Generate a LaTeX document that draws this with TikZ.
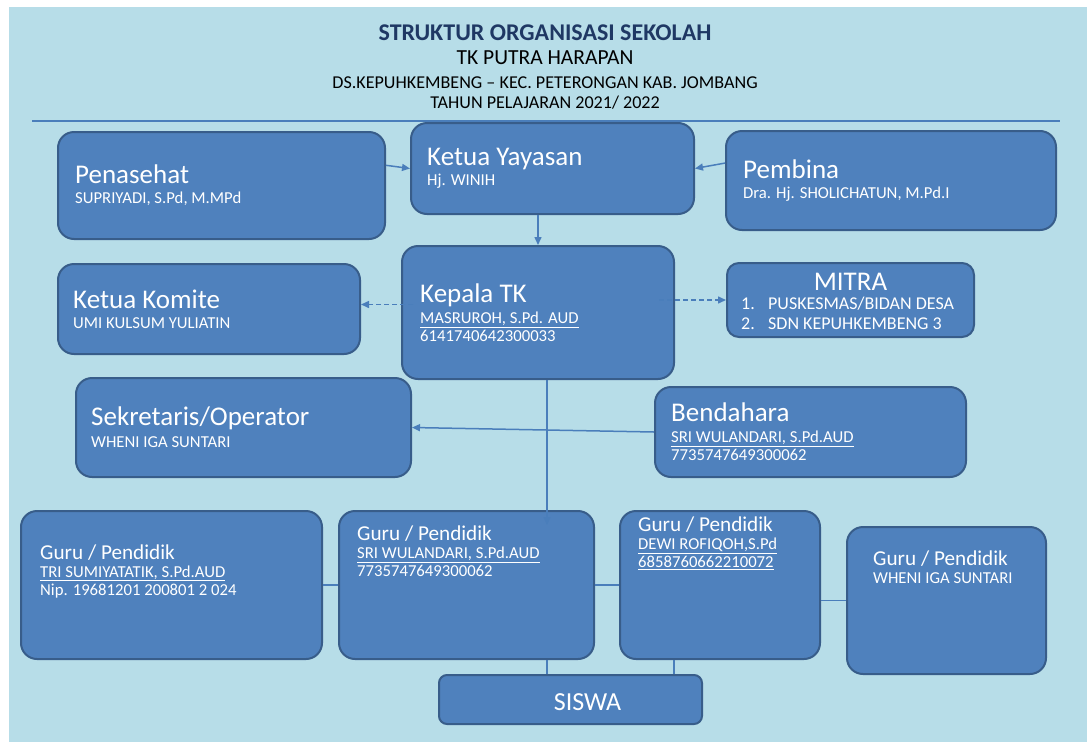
\documentclass[tikz,border=0pt]{standalone}
\usepackage{fontspec}
\setmainfont{Carlito}
\usetikzlibrary{arrows.meta, calc}
\definecolor{bgblue}{HTML}{B7DDE8}
\definecolor{boxblue}{HTML}{4F81BD}
\definecolor{edgeblue}{HTML}{385D8A}
\definecolor{linkblue}{HTML}{4A7EBB}
\definecolor{navy}{HTML}{1F3864}
\newcommand{\hd}[1]{{\fontsize{27}{30}\selectfont #1}}
\newcommand{\gd}[1]{{\fontsize{21.2}{25}\selectfont #1}}

\begin{document}
\begin{tikzpicture}[x=1pt, y=-1pt,
  box/.style={draw=edgeblue, line width=2pt, fill=boxblue, rounded corners=16pt, anchor=north west, inner sep=0pt},
  txt/.style={anchor=west, align=left, inner sep=0pt, text=white, font=\fontsize{16.7}{18}\selectfont},
  link/.style={draw=linkblue, line width=1.5pt},
  arr/.style={link, -{Triangle[length=8pt, width=7pt]}},
  dlink/.style={arr, dash pattern=on 5pt off 3pt}]
   \useasboundingbox (0,0) rectangle (1087,742);
   \fill[bgblue] (9,7) rectangle (1087,742);

   % heading
   \node[anchor=base, text=navy, font=\bfseries\fontsize{24}{28}\selectfont] (title) at (545,40) {STRUKTUR ORGANISASI SEKOLAH};
   \node[anchor=base, font=\fontsize{21.5}{24}\selectfont] (school) at (545,64.5) {TK PUTRA HARAPAN};
   \node[anchor=base, font=\fontsize{18.1}{21}\selectfont] (addr) at (545,88) {DS.KEPUHKEMBENG -- KEC. PETERONGAN KAB. JOMBANG};
   \node[anchor=base, font=\fontsize{18.1}{21}\selectfont] (year) at (545,108) {TAHUN PELAJARAN 2021/ 2022};
   \draw[link] (32,121) -- (1060,121);

   % boxes
   \node[box, minimum width=327pt, minimum height=107pt] (pen) at (57,131) {};
   \node[box, minimum width=283pt, minimum height=91pt] (yay) at (410,122) {};
   \node[box, minimum width=330pt, minimum height=99pt] (pem) at (725,130) {};
   \node[box, minimum width=302pt, minimum height=90pt] (kom) at (57,263) {};
   \node[box, minimum width=272pt, minimum height=133pt] (kep) at (401,245) {};
   \node[box, minimum width=247pt, minimum height=74pt, rounded corners=12pt] (mit) at (726,262) {};
   \node[box, minimum width=335pt, minimum height=99pt] (sek) at (75,377) {};
   \node[box, minimum width=311pt, minimum height=90pt] (ben) at (654,386) {};
   \node[box, minimum width=301pt, minimum height=148pt] (g1) at (20,510) {};
   \node[box, minimum width=255pt, minimum height=148pt] (g2) at (338,510) {};
   \node[box, minimum width=200pt, minimum height=148pt] (g3) at (619,510) {};
   \node[box, minimum width=199pt, minimum height=147pt] (g4) at (846,526) {};
   \node[box, minimum width=263pt, minimum height=49pt, rounded corners=8pt] (siswa) at (438,674) {};

   % texts
   \node[txt] (penT) at ([xshift=18pt]pen.west) {\hd{Penasehat}\\[2pt] SUPRIYADI, S.Pd, M.MPd};
   \node[txt] (yayT) at ([xshift=17pt]yay.west) {\hd{Ketua Yayasan}\\[2pt] Hj. WINIH};
   \node[txt] (pemT) at ([xshift=18pt]pem.west) {\hd{Pembina}\\[2pt] Dra. Hj. SHOLICHATUN, M.Pd.I};
   \node[txt] (komT) at ([xshift=16pt]kom.west) {\hd{Ketua Komite}\\[2pt] UMI KULSUM YULIATIN};
   \node[txt] (kepT) at ([xshift=19pt]kep.west) {\hd{Kepala TK}\\[3pt] \underline{MASRUROH, S.Pd. AUD}\\ 6141740642300033};
   \node[anchor=base, inner sep=0pt, text=white, font=\fontsize{27}{30}\selectfont] (mitT) at ([yshift=-28pt]mit.north) {MITRA};
   \node[txt, anchor=north west, font=\fontsize{18}{20}\selectfont] (mitL) at (741,297)
     {\makebox[27pt][l]{1.}PUSKESMAS/BIDAN DESA\\ \makebox[27pt][l]{2.}SDN KEPUHKEMBENG 3};
   \node[txt] (sekT) at ([xshift=16pt]sek.west) {\hd{Sekretaris/Operator}\\[4pt] WHENI IGA SUNTARI};
   \node[txt] (benT) at ([xshift=17pt]ben.west) {\hd{Bendahara}\\[3pt] \underline{SRI WULANDARI, S.Pd.AUD}\\ 7735747649300062};
   \node[txt] (g1T) at ([xshift=20pt, yshift=14pt]g1.west) {\gd{Guru / Pendidik}\\ \underline{TRI SUMIYATATIK, S.Pd.AUD}\\ Nip. 19681201 200801 2 024};
   \node[txt] (g2T) at ([xshift=19pt, yshift=34pt]g2.west) {\gd{Guru / Pendidik}\\ \underline{SRI WULANDARI, S.Pd.AUD}\\ 7735747649300062};
   \node[txt] (g3T) at ([xshift=19pt, yshift=42pt]g3.west) {\gd{Guru / Pendidik}\\ \underline{DEWI ROFIQOH,S.Pd}\\ \underline{6858760662210072}};
   \node[txt] (g4T) at ([xshift=27pt, yshift=33pt]g4.west) {\gd{Guru / Pendidik}\\ WHENI IGA SUNTARI};
   \node[anchor=center, inner sep=0pt, text=white, font=\fontsize{26}{30}\selectfont] (sisT) at ([xshift=17pt, yshift=-3pt]siswa.center) {SISWA};

   % connectors
   \coordinate (kepL) at ($(kep.west)+(12,-8)$);
   \coordinate (spine) at ($(kep.south)+(9,0)$);
   \coordinate (g3s) at ($(g3.south)+(-46,0)$);
   \draw[arr] (pen.7.5) -- (yay.west);
   \draw[arr] (pem.174) -- (yay.east);
   \draw[arr] (yay.south -| kep.north) -- (kep.north);
   \draw[dlink] (kepL) -- (kepL -| kom.east);
   \draw[dlink] ($(kep.east |- mit.west)+(-16,0)$) -- (mit.west);
   \draw[arr] (ben.west) -- (sek.east);
   \draw[arr] (spine) -- ($(spine |- g2.north)+(0,15)$);
   \draw[link] (g1.east) -- (g2.west);
   \draw[link] (g2.east) -- (g3.west);
   \draw[link] (g3.east |- g4.west) -- (g4.west);
   \draw[link] (g2.south -| spine) -- (siswa.north -| spine);
   \draw[link] (g3s) -- (g3s |- siswa.north);
 \end{tikzpicture}
\end{document}
